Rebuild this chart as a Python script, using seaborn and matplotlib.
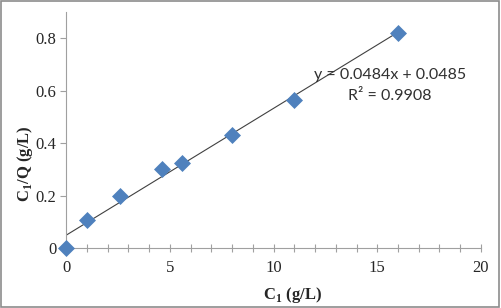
import numpy as np
import pandas as pd
import matplotlib.pyplot as plt
import seaborn as sns

# -----------------------------
# DATA
# -----------------------------
c1 = [0, 1.0, 2.6, 4.6, 5.6, 8.0, 11.0, 16.0]
c1_over_q = [0, 0.105, 0.200, 0.303, 0.325, 0.432, 0.565, 0.820]
slope = 0.0484
intercept = 0.0485
r2 = 0.9908

df = pd.DataFrame({"C1": c1, "C1/Q": c1_over_q})

# -----------------------------
# PLOT
# -----------------------------
sns.set_style("white")
plt.rcParams["font.family"] = ["Liberation Serif", "DejaVu Serif"]
plt.rcParams["mathtext.fontset"] = "custom"
plt.rcParams["mathtext.rm"] = "Liberation Serif"
plt.rcParams["mathtext.bf"] = "Liberation Serif:bold"

fig = plt.figure(figsize=(5.01, 3.08), dpi=100)
ax = fig.add_axes([0.132, 0.195, 0.828, 0.766])

# trendline
fit_x = np.array([0, max(c1)])
ax.plot(fit_x, slope * fit_x + intercept, color="#404040", lw=0.8, zorder=2)

sns.scatterplot(data=df, x="C1", y="C1/Q", ax=ax, marker="D", s=75,
                color="#4F81BD", edgecolor="#4F81BD", linewidth=0, zorder=3,
                clip_on=False)

ax.set_xlim(0, 20)
ax.set_ylim(0, 0.9)
ax.set_xticks([0, 5, 10, 15, 20])
ax.set_xticks(np.arange(0, 21, 1), minor=True)
ax.set_yticks([0, 0.2, 0.4, 0.6, 0.8])
ax.set_yticklabels(["0", "0.2", "0.4", "0.6", "0.8"])
ax.set_xticklabels(["0", "5", "10", "15", "20"])

for side in ["top", "right"]:
    ax.spines[side].set_visible(False)
for side in ["left", "bottom"]:
    ax.spines[side].set_color("#A0A0A0")
    ax.spines[side].set_linewidth(0.8)

ax.tick_params(axis="x", which="both", direction="inout", length=6,
               color="#A0A0A0", width=0.8, labelsize=12, pad=6)
ax.tick_params(axis="y", which="major", direction="out", length=4,
               color="#A0A0A0", width=0.8, labelsize=12, pad=3)
ax.tick_params(left=True, bottom=True)
ax.tick_params(axis="x", which="minor", bottom=True)

ax.set_xlabel(r"C$_\mathbf{1}$ (g/L)", fontsize=12, fontweight="bold")
ax.set_ylabel(r"C$_\mathbf{1}$/Q (g/L)", fontsize=12, fontweight="bold")
ax.xaxis.set_label_coords(0.545, -0.155)
ax.yaxis.set_label_coords(-0.076, 0.356)

ax.text(15.6, 0.66, f"y = {slope}x + {intercept}", fontsize=11.5,
        family=["Lato", "DejaVu Sans"], color="#303030", ha="center", va="center")
ax.text(15.6, 0.58, f"R\u00b2 = {r2}", fontsize=11.5,
        family=["Lato", "DejaVu Sans"], color="#303030", ha="center", va="center")

# grey frame around the chart area
fig.patches.append(plt.Rectangle((0.002, 0.003), 0.995, 0.993, transform=fig.transFigure,
                                 fill=False, edgecolor="#8C8C8C", lw=1.2))

fig.savefig("out.png", dpi=100)
